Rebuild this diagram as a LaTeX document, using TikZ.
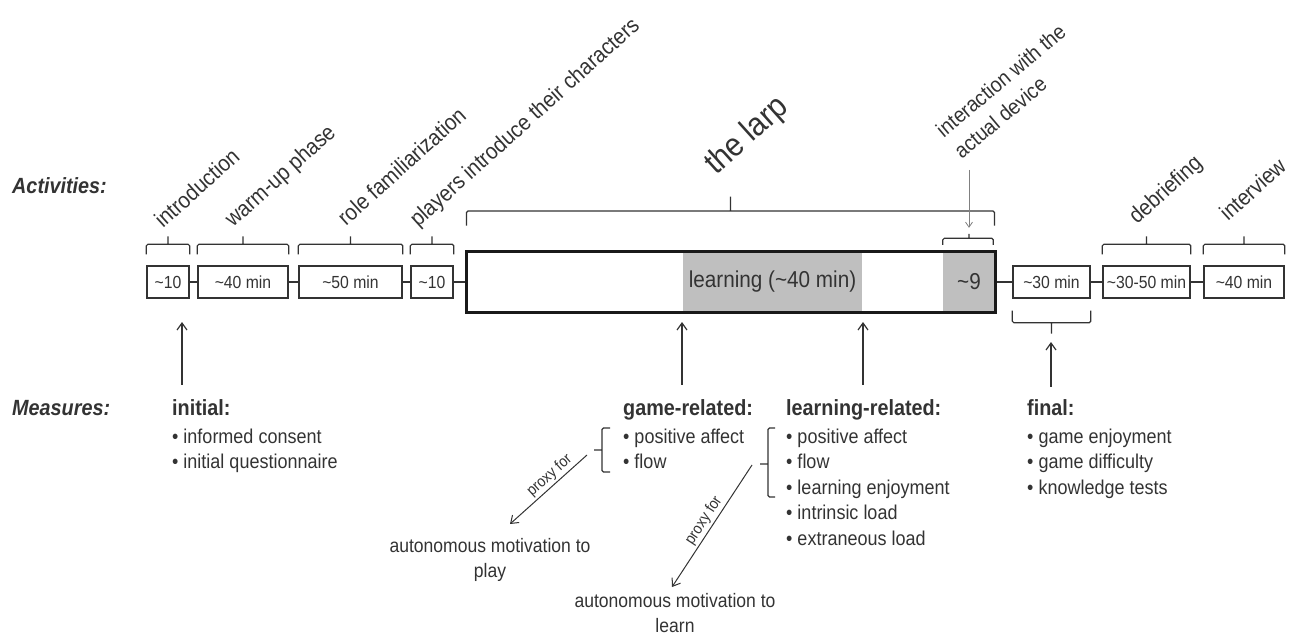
\documentclass[tikz,border=0pt]{standalone}
\usepackage{fontspec}
\setmainfont{Liberation Sans}[FakeStretch=0.9]
\usetikzlibrary{arrows.meta, positioning}
\definecolor{ink}{gray}{0.2}
\definecolor{shade}{gray}{0.75}
\tikzset{>={Straight Barb[length=7pt,width=10pt]},
  every node/.style={text=ink, inner sep=0pt},
  tbox/.style={draw=ink, line width=1.4pt, minimum height=32pt, font=\fontsize{17.5}{20}\selectfont},
  larpbox/.style={draw=black!90, line width=3pt, minimum width=529pt, minimum height=61pt},
  band/.style={fill=shade, minimum height=61pt, font=\fontsize{23}{26}\selectfont},
  phase/.style={rotate=42, anchor=base west, font=\fontsize{22.5}{26}\selectfont},
  side/.style={anchor=base west, font=\fontsize{22}{26}\bfseries\itshape\selectfont},
  head/.style={anchor=base west, font=\fontsize{22}{26}\bfseries\selectfont},
  items/.style={align=left, anchor=north west, font=\fontsize{20}{25.5}\selectfont},
  outcome/.style={align=center, anchor=north, font=\fontsize{19.5}{25}\selectfont},
  brak/.style={draw=ink, line width=1.2pt, rounded corners=1.5pt},
  link/.style={draw=ink, line width=1.2pt},
  up/.style={draw=ink, line width=1.2pt, ->},
  proxy/.style={draw=ink, line width=1pt, <-},
}

\begin{document}
\begin{tikzpicture}[x=1pt, y=-1pt]
    \useasboundingbox (0,0) rectangle (1306,637);
    % side labels
    \node[side] (act) at (12,193) {Activities:};
    \node[side] (mea) at (12,415) {Measures:};
    % timeline
    \node[tbox, minimum width=42pt] (b1) at (168,282) {\textasciitilde10};
    \node[tbox, minimum width=90pt] (b2) at (243,282) {\textasciitilde40 min};
    \node[tbox, minimum width=103pt] (b3) at (350.5,282) {\textasciitilde50 min};
    \node[tbox, minimum width=42pt] (b4) at (432,282) {\textasciitilde10};
    \node[band, minimum width=179pt] (learn) at (772.5,281.5) {learning (\textasciitilde40 min)};
    \node[band, minimum width=52pt] (nine) at (969,281.5) {\textasciitilde9};
    \node[larpbox] (larp) at (730.5,281.5) {};
    \node[tbox, minimum width=77pt] (b6) at (1051.5,282) {\textasciitilde30 min};
    \node[tbox, minimum width=87pt] (b7) at (1146.5,282) {\textasciitilde30-50 min};
    \node[tbox, minimum width=80pt] (b8) at (1244,282) {\textasciitilde40 min};
    \draw[link] (b1.east) -- (b2.west) (b2.east) -- (b3.west) (b3.east) -- (b4.west)
        (b4.east) -- (b4.east -| larp.west) (larp.east |- b6.west) -- (b6.west)
        (b6.east) -- (b7.west) (b7.east) -- (b8.west);
    % brackets over the phases
    \foreach \n in {b1,b2,b3,b4,b7,b8}
        \draw[brak] ([yshift=11]\n.north west) -- ([yshift=21]\n.north west) -- ([yshift=21]\n.north east) -- ([yshift=11]\n.north east)
            ([yshift=21]\n.north) -- ([yshift=29]\n.north);
    \draw[brak] ([xshift=2,yshift=24]larp.north west) -- ([xshift=2,yshift=38.5]larp.north west) -- ([xshift=-2,yshift=38.5]larp.north east) -- ([xshift=-2,yshift=24]larp.north east)
        ([yshift=38.5]larp.north) -- ([yshift=53]larp.north);
    \draw[brak] ([yshift=6]nine.north west) -- ([yshift=12.5]nine.north west) -- ([xshift=-2,yshift=12.5]nine.north east) -- ([xshift=-2,yshift=6]nine.north east)
        ([yshift=12.5]nine.north) -- ([yshift=17]nine.north);
    \draw[brak] ([yshift=-12]b6.south west) -- ([yshift=-24]b6.south west) -- ([yshift=-24]b6.south east) -- ([yshift=-12]b6.south east)
        ([yshift=-24]b6.south) -- ([yshift=-35]b6.south);
    % activity labels
    \node[phase] (tIntro) at (163,229) {introduction};
    \node[phase] (tWarm) at (233,228) {warm-up phase};
    \node[phase] (tRole) at (346,227) {role familiarization};
    \node[phase] (tPlay) at (418,228) {players introduce their characters};
    \node[phase, font=\fontsize{33}{36}\selectfont] (tLarp) at (716,176) {the larp};
    \node[phase, rotate=-2, anchor=south west, align=left, font=\fontsize{21.5}{28}\selectfont] (tDev) at (962,160) {interaction with the\\actual device};
    \node[phase] (tDebrief) at (1137,225) {debriefing};
    \node[phase] (tInter) at (1228,222) {interview};
    \draw[draw=gray, line width=0.8pt, -{Straight Barb[length=5pt,width=7pt]}] ([yshift=81]nine.north) -- ([yshift=23]nine.north);
    % measures
    \node[head] (initH) at (172,415) {initial:};
    \node[head] (gameH) at (623,415) {game-related:};
    \node[head] (learnH) at (786,415) {learning-related:};
    \node[head] (finalH) at (1027,415) {final:};
    \node[items] (initL) at ([yshift=-13.5]initH.base west) {\textbullet\ informed consent\\\textbullet\ initial questionnaire};
    \node[items] (gameL) at ([yshift=-13.5]gameH.base west) {\textbullet\ positive affect\\\textbullet\ flow};
    \node[items] (learnL) at ([yshift=-13.5]learnH.base west) {\textbullet\ positive affect\\\textbullet\ flow\\\textbullet\ learning enjoyment\\\textbullet\ intrinsic load\\\textbullet\ extraneous load};
    \node[items] (finalL) at ([yshift=-13.5]finalH.base west) {\textbullet\ game enjoyment\\\textbullet\ game difficulty\\\textbullet\ knowledge tests};
    \coordinate (aInit) at (182,322);
    \coordinate (aGame) at (682,322);
    \coordinate (aLearn) at (863,322);
    \coordinate (aFinal) at (1051,342);
    \draw[up] ([yshift=14]aInit |- initH.north) -- (aInit);
    \draw[up] ([yshift=14]aGame |- gameH.north) -- (aGame);
    \draw[up] ([yshift=14]aLearn |- learnH.north) -- (aLearn);
    \draw[up] ([yshift=12]aFinal |- finalH.north) -- (aFinal);
    % proxies
    \draw[brak] (610,428) -- (602,428) -- (602,472) -- (610,472) (602,450) -- (594,450);
    \draw[brak] (775,428) -- (768,428) -- (768,497) -- (775,497) (768,464) -- (760,464);
    \node[outcome] (motPlay) at (490,538) {autonomous motivation to\\play};
    \node[outcome] (motLearn) at (675,593) {autonomous motivation to\\learn};
    \coordinate (pGame) at (587,455);
    \coordinate (pLearn) at (752,465);
    \draw[proxy] ([xshift=20,yshift=14]motPlay.north) -- (pGame)
        node[pos=0.6, sloped, above=2pt, font=\fontsize{15.5}{18}\selectfont] {proxy for};
    \draw[proxy] ([xshift=-3,yshift=6]motLearn.north) -- (pLearn)
        node[pos=0.5, sloped, above=2pt, font=\fontsize{15.5}{18}\selectfont] {proxy for};
\end{tikzpicture}
\end{document}
